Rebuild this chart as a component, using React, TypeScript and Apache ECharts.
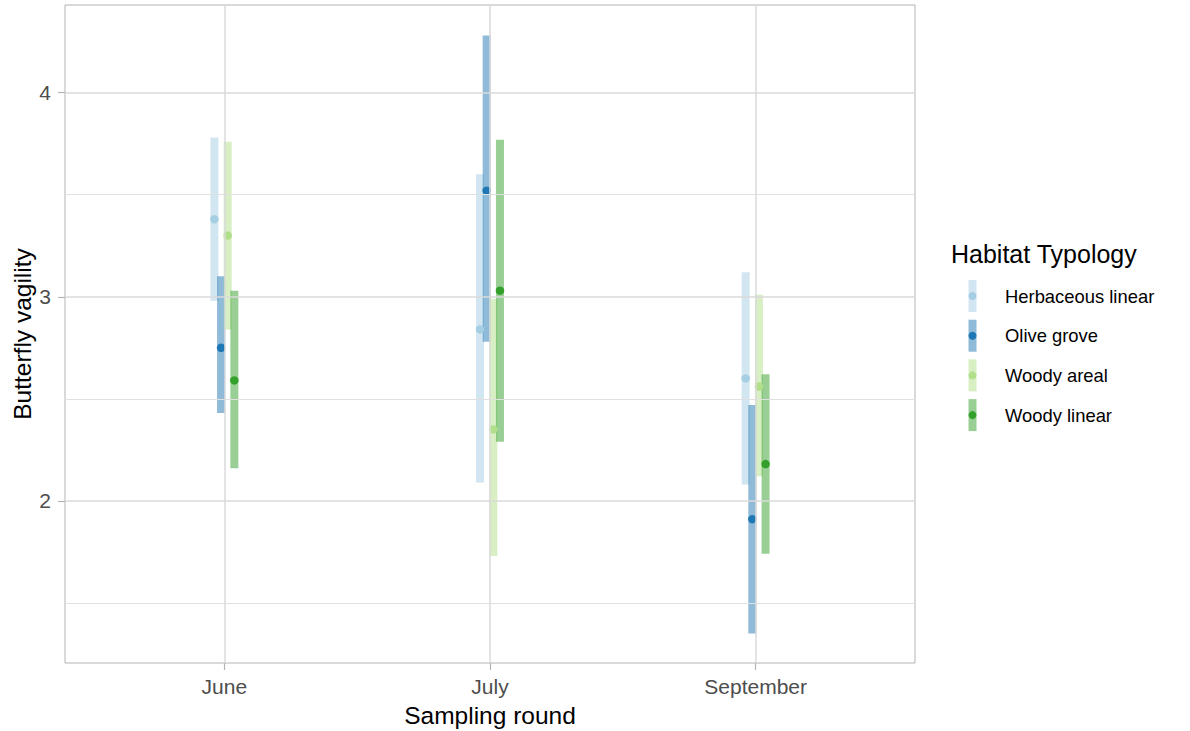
import React, { useEffect, useRef } from "react";
import * as echarts from "echarts";

const rounds = ["June", "July", "September"];
const groups = ["Herbaceous linear", "Olive grove", "Woody areal", "Woody linear"];
const colors = ["#A6CEE3", "#1F78B4", "#B2DF8A", "#33A02C"];

const herbaceousLow = [2.98, 2.09, 2.08];
const herbaceousHigh = [3.78, 3.6, 3.12];
const herbaceousMean = [3.38, 2.84, 2.6];

const oliveLow = [2.43, 2.78, 1.35];
const oliveHigh = [3.1, 4.28, 2.47];
const oliveMean = [2.75, 3.52, 1.91];

const arealLow = [2.84, 1.73, 2.12];
const arealHigh = [3.76, 2.99, 3.01];
const arealMean = [3.3, 2.35, 2.56];

const linearLow = [2.16, 2.29, 1.74];
const linearHigh = [3.03, 3.77, 2.62];
const linearMean = [2.59, 3.03, 2.18];

const yTicks = [2, 3, 4];
const yMinor = [1.5, 2.5, 3.5];
const xTicks = [1, 2, 3];

const lows = [herbaceousLow, oliveLow, arealLow, linearLow];
const highs = [herbaceousHigh, oliveHigh, arealHigh, linearHigh];
const means = [herbaceousMean, oliveMean, arealMean, linearMean];

const dodgeWidth = 0.1;
const FONT = "'Liberation Sans', Arial, sans-serif";

export default function App() {
  const ref = useRef<HTMLDivElement>(null);
  useEffect(() => {
    if (!ref.current) return;
    const chart = echarts.init(ref.current, null, { renderer: "svg" });
    const n = groups.length;
    const offsets = groups.map((_, g) => (-dodgeWidth / 2) + dodgeWidth * (g + 0.5) / n);

    const rangeSeries = groups.map((name, g) => ({
      type: "custom",
      name,
      z: 2,
      data: rounds.map((_, i) => [i + 1 + offsets[g], lows[g][i], highs[g][i]]),
      encode: { x: 0, y: [1, 2] },
      renderItem: (params: any, api: any) => {
        const x = api.value(0);
        const top = api.coord([x, api.value(2)]);
        const bot = api.coord([x, api.value(1)]);
        return {
          type: "rect",
          shape: { x: top[0] - 4, y: top[1], width: 8, height: bot[1] - top[1] },
          style: { fill: colors[g], opacity: 0.5 },
        };
      },
      silent: true,
    }));

    const pointSeries = groups.map((name, g) => ({
      type: "scatter",
      name,
      z: 3,
      symbol: "circle",
      symbolSize: 8.5,
      itemStyle: { color: colors[g], opacity: 1 },
      data: rounds.map((_, i) => [i + 1 + offsets[g], means[g][i]]),
      silent: true,
    }));

    const gridSeries = {
      type: "line",
      z: 1,
      data: [],
      silent: true,
      markLine: {
        silent: true,
        symbol: ["none", "none"],
        label: { show: false },
        animation: false,
        data: [
          ...yMinor.map((v) => ({ yAxis: v, lineStyle: { color: "#E0E0E0", width: 1.1, type: "solid" } })),
          ...yTicks.map((v) => ({ yAxis: v, lineStyle: { color: "#DADADA", width: 1.5, type: "solid" } })),
          ...xTicks.map((v) => ({ xAxis: v, lineStyle: { color: "#DADADA", width: 1.5, type: "solid" } })),
        ],
      },
    };

    const legendX = 972.5;
    const legendY0 = 296;
    const legendStep = 39.7;
    const legendGraphics: any[] = [
      {
        type: "text",
        x: 951,
        y: 254,
        style: {
          text: "Habitat Typology",
          fontSize: 25,
          fontFamily: FONT,
          fill: "#000000",
          verticalAlign: "middle",
        },
      },
    ];
    groups.forEach((name, g) => {
      const cy = legendY0 + legendStep * g;
      legendGraphics.push({
        type: "rect",
        x: legendX - 4,
        y: cy - 16,
        shape: { x: 0, y: 0, width: 8, height: 32 },
        style: { fill: colors[g], opacity: 0.5 },
      });
      legendGraphics.push({
        type: "circle",
        x: legendX,
        y: cy,
        shape: { cx: 0, cy: 0, r: 4 },
        style: { fill: colors[g] },
      });
      legendGraphics.push({
        type: "text",
        x: 1005,
        y: cy,
        style: {
          text: name,
          fontSize: 18.4,
          fontFamily: FONT,
          fill: "#000000",
          verticalAlign: "middle",
        },
      });
    });

    chart.setOption({
      animation: false,
      backgroundColor: "#FFFFFF",
      grid: {
        left: 65,
        right: 275,
        top: 5,
        bottom: 68,
        show: true,
        borderColor: "#B3B3B3",
        borderWidth: 1,
        backgroundColor: "transparent",
        containLabel: false,
        outerBoundsMode: "none",
      },
      xAxis: {
        type: "value",
        min: 0.4,
        max: 3.6,
        name: "Sampling round",
        nameLocation: "middle",
        nameGap: 40,
        nameTextStyle: { fontSize: 24.5, fontFamily: FONT, color: "#000000" },
        axisLine: { show: false },
        axisTick: { show: true, customValues: xTicks, length: 7, lineStyle: { color: "#B3B3B3", width: 1.2 } },
        axisLabel: {
          customValues: xTicks,
          formatter: (v: number) => rounds[Math.round(v) - 1] ?? "",
          fontSize: 21,
          fontFamily: FONT,
          color: "#4D4D4D",
          margin: 13,
        },
        splitLine: { show: false },
      },
      yAxis: {
        type: "value",
        min: 1.205,
        max: 4.43,
        name: "Butterfly vagility",
        nameLocation: "middle",
        nameGap: 30,
        nameMoveOverlap: false,
        nameTextStyle: { fontSize: 24.5, fontFamily: FONT, color: "#000000" },
        axisLine: { show: false },
        axisTick: { show: true, customValues: yTicks, length: 7, lineStyle: { color: "#B3B3B3", width: 1.2 } },
        axisLabel: {
          customValues: yTicks,
          formatter: (v: number) => String(v),
          fontSize: 21,
          fontFamily: FONT,
          color: "#4D4D4D",
          margin: 14,
        },
        splitLine: { show: false },
      },
      graphic: legendGraphics,
      series: [gridSeries, ...rangeSeries, ...pointSeries],
    });
    return () => chart.dispose();
  }, []);
  return (
    <div
      ref={ref}
      style={{ position: "absolute", left: 0, top: 0, width: 1190, height: 731 }}
    />
  );
}
